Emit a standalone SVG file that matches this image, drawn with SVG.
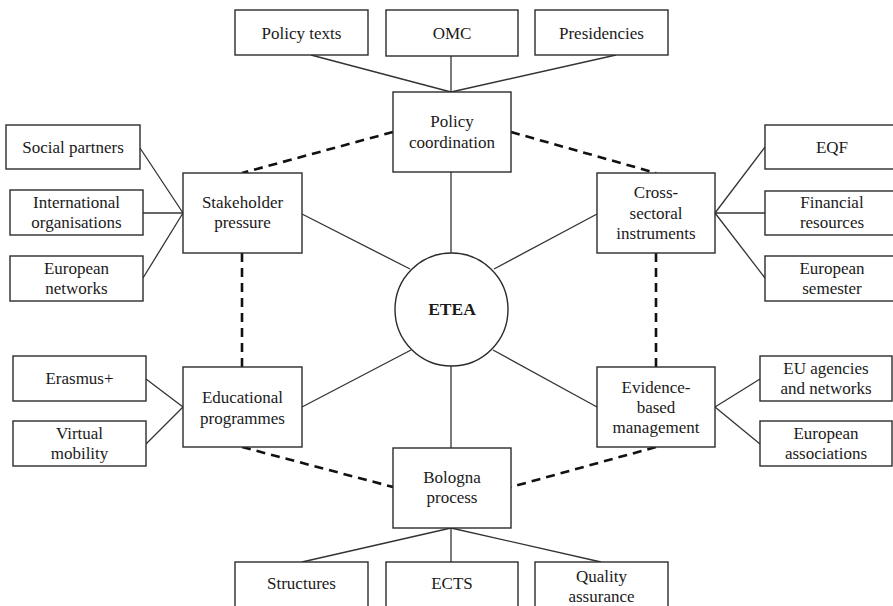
<svg xmlns="http://www.w3.org/2000/svg" width="893" height="606" viewBox="0 0 893 606">
<style>
.box{fill:#fff;stroke:#2b2b2b;stroke-width:1.4}
.t{font-family:"Liberation Serif","Times New Roman",serif;font-size:17px;fill:#1a1a1a;text-anchor:middle}
.b{font-weight:bold;font-size:17.5px}
.ln{stroke:#333;stroke-width:1.3;fill:none}
.ds{stroke:#111;stroke-width:2.6;stroke-dasharray:9,6;fill:none}
</style>
<rect width="893" height="606" fill="#fff"/>
<g id="connectors">
<line class="ln" x1="311" y1="55" x2="451" y2="92"/>
<line class="ln" x1="451" y1="56" x2="451" y2="92"/>
<line class="ln" x1="616" y1="55" x2="451" y2="92"/>
<line class="ln" x1="451" y1="172" x2="451" y2="253"/>
<line class="ln" x1="140" y1="148" x2="183" y2="213"/>
<line class="ln" x1="143" y1="213" x2="183" y2="213"/>
<line class="ln" x1="143" y1="278" x2="183" y2="213"/>
<line class="ln" x1="715" y1="213" x2="765" y2="147"/>
<line class="ln" x1="715" y1="213" x2="765" y2="213"/>
<line class="ln" x1="715" y1="213" x2="765" y2="278"/>
<line class="ln" x1="302" y1="214" x2="410" y2="269"/>
<line class="ln" x1="597" y1="214" x2="494" y2="269"/>
<line class="ln" x1="302" y1="407" x2="411" y2="350"/>
<line class="ln" x1="597" y1="407" x2="493" y2="350"/>
<line class="ln" x1="146" y1="379" x2="183" y2="407"/>
<line class="ln" x1="146" y1="444" x2="183" y2="407"/>
<line class="ln" x1="715" y1="407" x2="760" y2="379"/>
<line class="ln" x1="715" y1="407" x2="760" y2="444"/>
<line class="ln" x1="451" y1="366" x2="451" y2="448"/>
<line class="ln" x1="451" y1="528" x2="302" y2="562"/>
<line class="ln" x1="451" y1="528" x2="451" y2="562"/>
<line class="ln" x1="451" y1="528" x2="601" y2="562"/>
<line class="ds" x1="393" y1="132" x2="242" y2="173"/>
<line class="ds" x1="511" y1="132" x2="656" y2="173"/>
<line class="ds" x1="242" y1="253" x2="242" y2="367"/>
<line class="ds" x1="656" y1="253" x2="656" y2="367"/>
<line class="ds" x1="242" y1="447" x2="393" y2="487"/>
<line class="ds" x1="656" y1="447" x2="511" y2="487"/>
</g>
<g id="etea"><circle cx="451.5" cy="309.5" r="56.5" class="box"/><text class="t b" x="452" y="315">ETEA</text></g>
<g id="policy-texts"><rect class="box" x="235" y="10" width="133" height="45"/><text class="t" x="301.5" y="38.5">Policy texts</text></g>
<g id="omc"><rect class="box" x="386" y="10" width="132" height="46"/><text class="t" x="452" y="38.5">OMC</text></g>
<g id="presidencies"><rect class="box" x="535" y="10" width="133" height="45"/><text class="t" x="601.5" y="38.5">Presidencies</text></g>
<g id="policy-coordination"><rect class="box" x="393" y="92" width="118" height="80"/><text class="t" x="452" y="127">Policy<tspan x="452" dy="20.5">coordination</tspan></text></g>
<g id="social-partners"><rect class="box" x="6" y="125" width="134" height="44"/><text class="t" x="73" y="153">Social partners</text></g>
<g id="international-organisations"><rect class="box" x="10" y="190" width="133" height="45"/><text class="t" x="76.5" y="208">International<tspan x="76.5" dy="20">organisations</tspan></text></g>
<g id="european-networks"><rect class="box" x="10" y="256" width="133" height="45"/><text class="t" x="76.5" y="274">European<tspan x="76.5" dy="20">networks</tspan></text></g>
<g id="stakeholder-pressure"><rect class="box" x="183" y="173" width="119" height="80"/><text class="t" x="242.5" y="208">Stakeholder<tspan x="242.5" dy="20">pressure</tspan></text></g>
<g id="cross-sectoral-instruments"><rect class="box" x="597" y="173" width="118" height="80"/><text class="t" x="656" y="198">Cross-<tspan x="656" dy="20.5">sectoral</tspan><tspan x="656" dy="20.5">instruments</tspan></text></g>
<g id="eqf"><rect class="box" x="765" y="125" width="134" height="44"/><text class="t" x="832" y="153">EQF</text></g>
<g id="financial-resources"><rect class="box" x="765" y="191" width="134" height="44"/><text class="t" x="832" y="208">Financial<tspan x="832" dy="20">resources</tspan></text></g>
<g id="european-semester"><rect class="box" x="765" y="256" width="134" height="45"/><text class="t" x="832" y="274">European<tspan x="832" dy="20">semester</tspan></text></g>
<g id="erasmus"><rect class="box" x="13" y="356" width="133" height="45"/><text class="t" x="79.5" y="384">Erasmus+</text></g>
<g id="virtual-mobility"><rect class="box" x="13" y="421" width="133" height="45"/><text class="t" x="79.5" y="439">Virtual<tspan x="79.5" dy="20">mobility</tspan></text></g>
<g id="educational-programmes"><rect class="box" x="183" y="367" width="119" height="80"/><text class="t" x="242.5" y="403">Educational<tspan x="242.5" dy="20.5">programmes</tspan></text></g>
<g id="evidence-based-management"><rect class="box" x="597" y="367" width="118" height="80"/><text class="t" x="656" y="393">Evidence-<tspan x="656" dy="20">based</tspan><tspan x="656" dy="20">management</tspan></text></g>
<g id="eu-agencies"><rect class="box" x="760" y="356" width="132" height="45"/><text class="t" x="826" y="374">EU agencies<tspan x="826" dy="20">and networks</tspan></text></g>
<g id="european-associations"><rect class="box" x="760" y="421" width="132" height="45"/><text class="t" x="826" y="439">European<tspan x="826" dy="20">associations</tspan></text></g>
<g id="bologna-process"><rect class="box" x="393" y="448" width="118" height="80"/><text class="t" x="452" y="483">Bologna<tspan x="452" dy="20">process</tspan></text></g>
<g id="structures"><rect class="box" x="235" y="562" width="133" height="50"/><text class="t" x="301.5" y="589">Structures</text></g>
<g id="ects"><rect class="box" x="386" y="562" width="132" height="50"/><text class="t" x="452" y="589">ECTS</text></g>
<g id="quality-assurance"><rect class="box" x="535" y="562" width="133" height="50"/><text class="t" x="601.5" y="582">Quality<tspan x="601.5" dy="20">assurance</tspan></text></g>
</svg>
